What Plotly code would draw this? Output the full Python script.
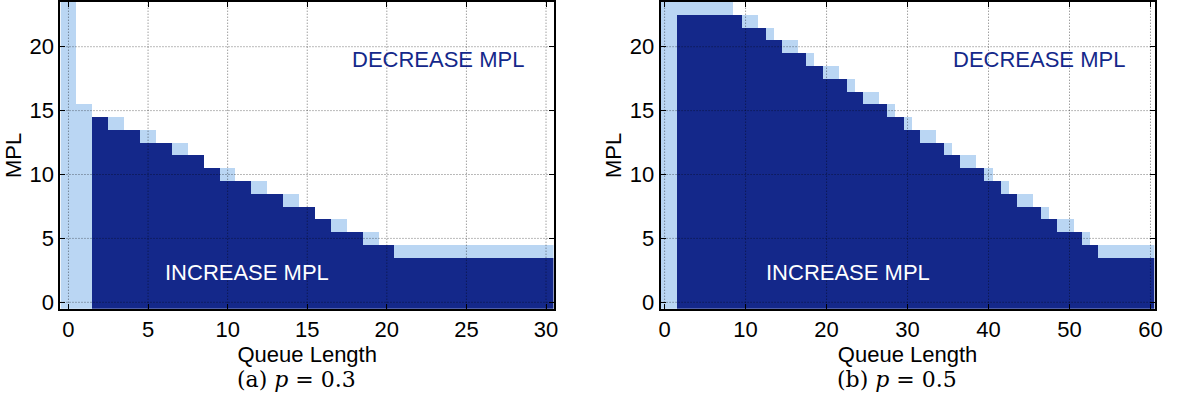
import plotly.graph_objects as go

# ---------------- data ----------------
mpl_levels = list(range(0, 24))

# p = 0.3 panel: highest MPL that is "increase" (-1 = none) and highest MPL that is "stay"
queue_a = list(range(0, 31))
inc_a = [-1, -1, 14, 13, 13, 12, 12, 11, 11, 10, 9, 9, 8, 8, 7, 7, 6, 5, 5, 4, 4,
         3, 3, 3, 3, 3, 3, 3, 3, 3, 3]
stay_a = [23, 15, 14, 14, 13, 13, 12, 12, 11, 10, 10, 9, 9, 8, 8, 7, 6, 6, 5, 5, 4,
          4, 4, 4, 4, 4, 4, 4, 4, 4, 4]

# p = 0.5 panel
queue_b = list(range(0, 61))
inc_b = [-1, -1, 22, 22, 22, 22, 22, 22, 22, 22,
         21, 21, 21, 20, 20, 19, 19, 19, 18, 18,
         17, 17, 17, 16, 16, 15, 15, 15, 14, 14,
         13, 13, 12, 12, 12, 11, 11, 10, 10, 10,
         9, 9, 8, 8, 7, 7, 7, 6, 6, 5,
         5, 5, 4, 4, 3, 3, 3, 3, 3, 3, 3]
stay_b = [23, 23, 23, 23, 23, 23, 23, 23, 23, 22,
          22, 22, 21, 21, 20, 20, 20, 19, 19, 18,
          18, 18, 17, 17, 16, 16, 16, 15, 15, 14,
          14, 13, 13, 13, 12, 12, 11, 11, 11, 10,
          10, 9, 9, 8, 8, 8, 7, 7, 6, 6,
          6, 5, 5, 4, 4, 4, 4, 4, 4, 4, 4]

xticks_a = [0, 5, 10, 15, 20, 25, 30]
xticks_b = [0, 10, 20, 30, 40, 50, 60]
yticks = [0, 5, 10, 15, 20]

captions = ["(a) <i>p</i> = 0.3", "(b) <i>p</i> = 0.5"]

DARK = "#14288a"
LIGHT = "#bad6f3"
FONT = "Liberation Sans, Arial, sans-serif"
FS = 22


def grid_z(inc, stay):
    z = []
    for m in mpl_levels:
        row = []
        for i in range(len(inc)):
            if m <= inc[i]:
                row.append(2)
            elif m <= stay[i]:
                row.append(1)
            else:
                row.append(0)
        z.append(row)
    return z


cscale = [[0, "white"], [0.333, "white"], [0.333, LIGHT], [0.667, LIGHT],
          [0.667, DARK], [1, DARK]]

fig = go.Figure()
fig.add_trace(go.Heatmap(x=queue_a, y=mpl_levels, z=grid_z(inc_a, stay_a),
                         colorscale=cscale, zmin=0, zmax=2, showscale=False,
                         hoverinfo="skip", xaxis="x", yaxis="y"))
fig.add_trace(go.Heatmap(x=queue_b, y=mpl_levels, z=grid_z(inc_b, stay_b),
                         colorscale=cscale, zmin=0, zmax=2, showscale=False,
                         hoverinfo="skip", xaxis="x2", yaxis="y2"))

W, H = 1178, 413
dom_x_a = [59 / W, 556.7 / W]
dom_x_b = [664.2 / W, 1162.4 / W]
dom_y = [1 - 313 / H, 1 - 1 / H]

axis_common = dict(showline=True, linecolor="black", linewidth=2, mirror="ticks",
                   ticks="inside", ticklen=5, tickwidth=1, tickcolor="black",
                   showgrid=False, zeroline=False,
                   tickfont=dict(family=FONT, size=FS, color="black"))
title_font = dict(family=FONT, size=FS, color="black")

fig.update_layout(
    width=W, height=H, margin=dict(l=0, r=0, t=0, b=0),
    paper_bgcolor="white", plot_bgcolor="white", showlegend=False,
    xaxis=dict(domain=dom_x_a, range=[-0.5, 30.5], tickvals=xticks_a, anchor="y",
               title=dict(text="Queue Length", font=title_font, standoff=0), **axis_common),
    yaxis=dict(domain=dom_y, range=[-0.5, 23.5], tickvals=yticks, anchor="x",
               title=dict(text="MPL", font=title_font, standoff=2), **axis_common),
    xaxis2=dict(domain=dom_x_b, range=[-0.5, 60.5], tickvals=xticks_b, anchor="y2",
                title=dict(text="Queue Length", font=title_font, standoff=0), **axis_common),
    yaxis2=dict(domain=dom_y, range=[-0.5, 23.5], tickvals=yticks, anchor="x2",
                title=dict(text="MPL", font=title_font, standoff=2), **axis_common),
)

# dotted grid drawn above the cells
gcol = "rgba(0,0,0,0.55)"
for xa, ya, xt in [("x", "y", xticks_a), ("x2", "y2", xticks_b)]:
    for t in xt:
        fig.add_shape(type="line", xref=xa, yref=ya + " domain", x0=t, x1=t, y0=0, y1=1,
                      line=dict(color=gcol, width=1, dash="1px,2px"), layer="above")
    for t in yticks:
        fig.add_shape(type="line", xref=xa + " domain", yref=ya, x0=0, x1=1, y0=t, y1=t,
                      line=dict(color=gcol, width=1, dash="1px,2px"), layer="above")

# region labels
for xa, ya, xd, xi in [("x", "y", 23.2, 11.2), ("x2", "y2", 46.2, 22.7)]:
    fig.add_annotation(x=xd, y=19.0, xref=xa, yref=ya, text="DECREASE MPL", showarrow=False,
                       font=dict(family=FONT, size=FS, color=DARK))
    fig.add_annotation(x=xi, y=2.3, xref=xa, yref=ya, text="INCREASE MPL", showarrow=False,
                       font=dict(family=FONT, size=FS, color="white"))

# sub-captions
for cx, txt in zip([297 / W, 902.6 / W], captions):
    fig.add_annotation(x=cx, y=1 - 385 / H, xref="paper", yref="paper", text=txt,
                       showarrow=False, xanchor="center", yanchor="middle",
                       font=dict(family="DejaVu Serif, serif", size=22, color="black"))

fig.write_html("out.html", config={"displayModeBar": False},
               post_script="document.body.style.margin='0';")
